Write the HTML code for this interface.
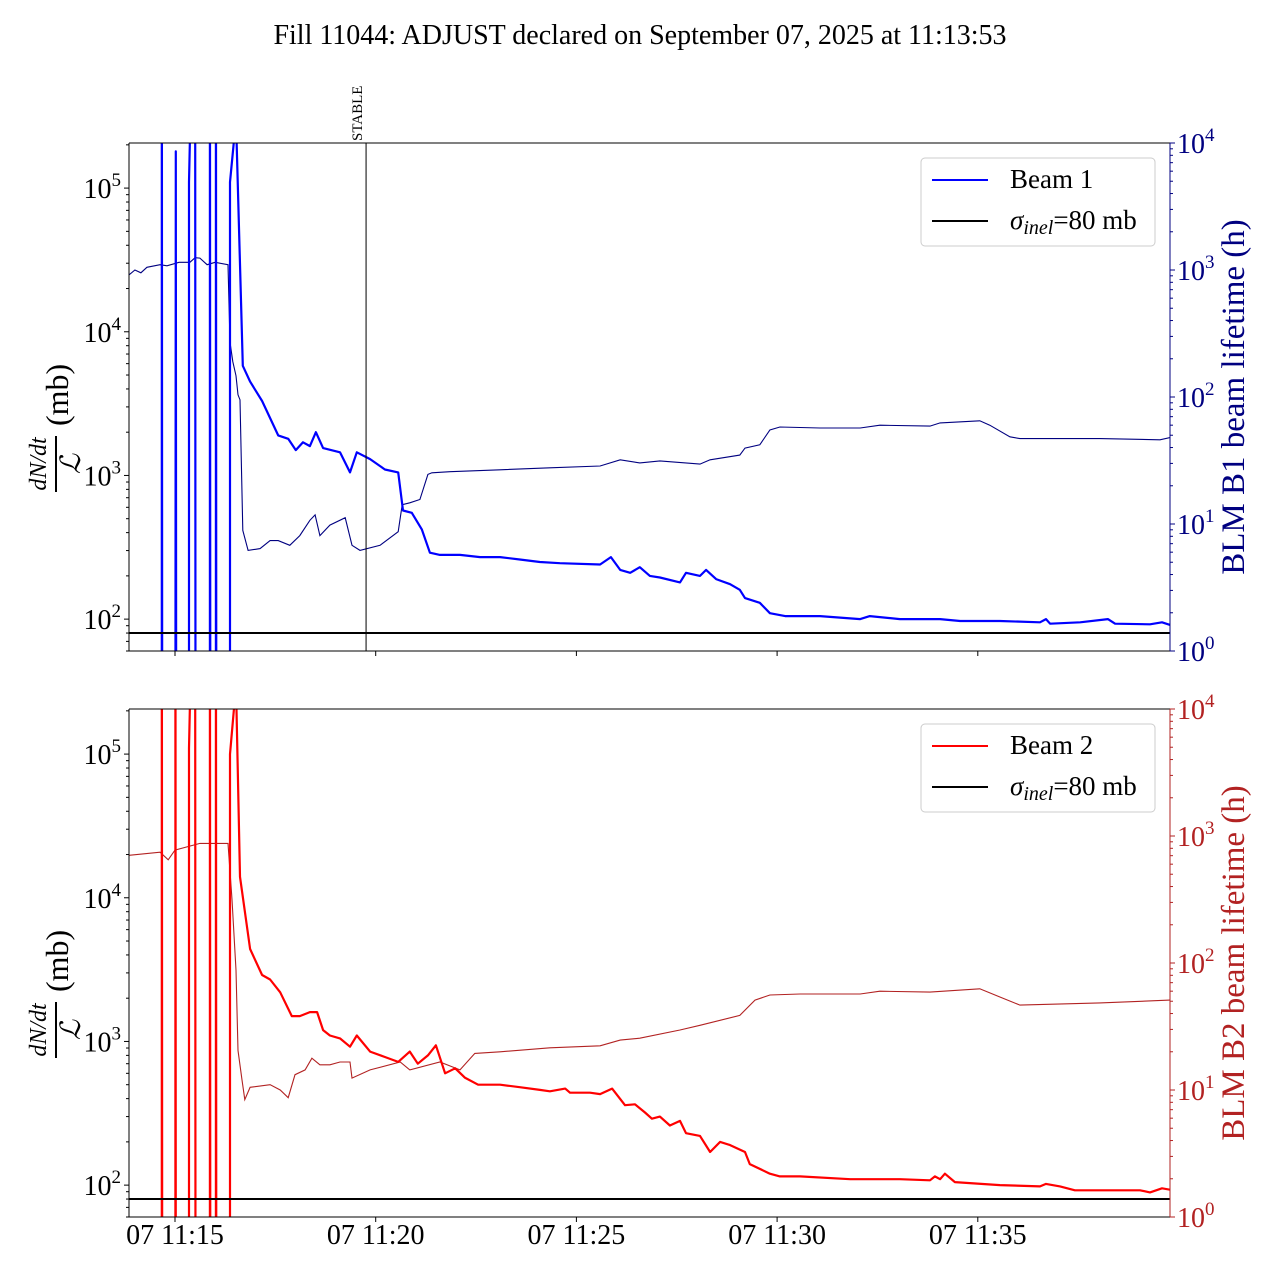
<!DOCTYPE html>
<html><head><meta charset="utf-8">
<style>
html,body{margin:0;padding:0;background:#fff;}
svg{display:block;font-family:"Liberation Serif","DejaVu Serif",serif;}
</style></head>
<body>
<svg id="chart" width="1280" height="1280" viewBox="0 0 1280 1280" xmlns="http://www.w3.org/2000/svg">
<text x="640" y="44" text-anchor="middle" font-size="28">Fill 11044: ADJUST declared on September 07, 2025 at 11:13:53</text>
</svg>
<script>
// time in minutes after 11:15
const xTickLabels = ["07 11:15","07 11:20","07 11:25","07 11:30","07 11:35"];
const xTickMinutes = [0,5,10,15,20];
const sigmaInel = 80;
const stableTime = 4.76;

const b1Time = [-0.33,-0.33,-0.32,0.01,0.02,0.03,0.35,0.35,0.50,0.51,0.87,0.87,0.88,1.02,1.02,1.03,1.37,1.37,1.52,1.69,1.87,2.17,2.57,2.82,3.01,3.19,3.36,3.51,3.69,4.11,4.36,4.53,4.86,5.23,5.56,5.68,5.90,6.15,6.35,6.60,7.10,7.60,8.10,8.59,9.09,9.59,10.59,10.86,11.09,11.34,11.58,11.83,12.08,12.58,12.73,13.08,13.23,13.48,13.83,14.07,14.20,14.57,14.82,15.20,16.07,17.07,17.31,18.06,19.06,19.56,20.55,21.55,21.70,21.80,22.55,23.24,23.42,24.29,24.59,24.79];
const b1Rate = [10,1e7,10,10,1.8e5,10,10,1.1e5,1e7,10,10,1e7,10,10,1e7,10,10,1.1e5,3e5,5800,4500,3300,1900,1800,1500,1700,1600,2000,1550,1450,1050,1450,1300,1100,1050,570,550,420,290,280,280,270,270,260,250,245,240,270,220,210,230,200,195,180,210,200,220,190,175,160,140,130,110,105,105,100,105,100,100,97,97,95,100,93,95,100,93,92,95,91];

const b1LtTime = [-1.15,-1.0,-0.85,-0.7,-0.37,-0.2,0.1,0.37,0.5,0.62,0.8,1.0,1.32,1.37,1.44,1.52,1.57,1.62,1.69,1.82,2.12,2.37,2.57,2.86,3.11,3.36,3.49,3.61,3.86,4.24,4.41,4.61,5.11,5.56,5.66,5.85,6.10,6.30,6.40,6.85,8.10,9.34,10.59,11.09,11.58,12.08,13.08,13.33,14.07,14.20,14.57,14.82,15.07,16.07,17.07,17.56,18.81,19.06,20.05,20.30,20.80,21.05,23.04,24.54,24.79];
const b1Lifetime = [912,1000,950,1050,1100,1080,1150,1150,1250,1240,1100,1150,1100,270,190,147,104,95,8.9,6.2,6.4,7.4,7.4,6.8,8.1,10.7,11.8,8.1,9.8,11.2,6.8,6.2,6.8,8.7,14.2,14.7,15.6,24.6,25.3,25.8,26.7,27.7,28.6,32,30.3,31.4,29.6,32,34.9,39.6,42,55,58,57,57,60,59,62.5,65,60,48.6,47,47,46,48];

const b2Time = [-0.33,-0.33,-0.32,0.01,0.01,0.02,0.35,0.35,0.50,0.51,0.87,0.87,0.88,1.02,1.02,1.03,1.37,1.37,1.52,1.62,1.87,2.17,2.37,2.62,2.91,3.11,3.36,3.54,3.69,3.86,4.11,4.36,4.53,4.86,5.23,5.56,5.85,6.05,6.30,6.50,6.73,6.98,7.22,7.55,8.10,8.59,9.09,9.34,9.72,9.84,10.34,10.59,10.89,11.21,11.46,11.71,11.88,12.08,12.33,12.58,12.73,13.08,13.33,13.58,13.83,14.20,14.32,14.82,15.07,15.57,16.82,18.06,18.81,18.93,19.06,19.18,19.43,20.55,21.55,21.70,22.05,22.42,23.04,24.04,24.29,24.59,24.79];
const b2Rate = [10,1e7,10,10,1e7,10,10,1.1e5,1e7,10,10,1e7,10,10,1e7,10,10,1e5,3e5,1.4e4,4400,2900,2700,2200,1500,1500,1600,1600,1200,1100,1050,920,1100,850,780,720,850,700,800,940,600,650,560,500,500,480,460,450,470,440,440,430,470,360,365,320,290,300,260,280,230,220,170,200,190,170,140,120,115,115,110,110,108,115,110,120,105,100,98,102,98,92,92,92,89,95,93];

const b2LtTime = [-1.15,-0.37,-0.17,0,0.62,1.32,1.42,1.52,1.57,1.67,1.74,1.87,2.37,2.62,2.82,2.99,3.24,3.41,3.61,3.86,4.11,4.36,4.41,4.86,5.61,5.85,6.60,7.10,7.47,8.10,9.34,10.59,11.09,11.58,12.58,13.08,14.07,14.45,14.82,15.57,17.07,17.56,18.81,20.05,20.55,21.05,23.04,24.79];
const b2Lifetime = [705,745,650,775,875,875,316,88,20.5,12,8.4,10.5,11,10,8.7,13.2,14.4,17.8,15.8,15.8,16.6,16.6,12.4,14.4,16.6,14.4,16.6,14.4,19.4,20,21.5,22.3,24.7,25.6,29.7,32.3,38.7,51,56,57,57,60,59,62.6,54,46.6,48.5,51];

const NS = "http://www.w3.org/2000/svg";
const svg = document.getElementById('chart');
const X0 = 129, X1 = 1170;
const xs = t => 175 + t * 40.14;
const LMIN = Math.log10(60), LMAX = Math.log10(2.06e5);

function mk(tag, attrs, parent) {
  const e = document.createElementNS(NS, tag);
  for (const k in attrs) e.setAttribute(k, attrs[k]);
  (parent || svg).appendChild(e);
  return e;
}

function panel(p) {
  const y0 = p.y0, y1 = p.y1;
  const yl = v => y1 - (Math.log10(v) - LMIN) / (LMAX - LMIN) * (y1 - y0);
  const yr = h => y1 - Math.log10(h) / 4 * (y1 - y0);
  const g = mk('g', {});
  
  
  const cp = mk('clipPath', {id: 'clip-' + p.name}, g);
  mk('rect', {x: X0, y: y0, width: X1 - X0, height: y1 - y0}, cp);
  const plot = mk('g', {'clip-path': 'url(#clip-' + p.name + ')'}, g);

  const lt = mk('polyline', {points: p.ltT.map((t, i) => xs(t).toFixed(1) + ',' + yr(p.ltV[i]).toFixed(1)).join(' '), fill: 'none', stroke: p.thin, 'stroke-width': 1.1}, plot);
  
  
  const rl = mk('polyline', {points: p.rT.map((t, i) => xs(t).toFixed(1) + ',' + yl(p.rV[i]).toFixed(1)).join(' '), fill: 'none', stroke: p.thick, 'stroke-width': 2.2, 'stroke-linejoin': 'round'}, plot);
  
  
  const sl = mk('line', {x1: X0, x2: X1, y1: yl(sigmaInel), y2: yl(sigmaInel), stroke: '#000', 'stroke-width': 2}, plot);
  
  
  if (p.stable) {
    const st = mk('line', {x1: xs(stableTime), x2: xs(stableTime), y1: y0, y2: y1, stroke: '#000', 'stroke-width': 1}, g);
    
    
    const tx = mk('text', {x: 0, y: 0, 'font-size': 15, transform: 'translate(' + (xs(stableTime) - 4) + ',' + (y0 - 2) + ') rotate(-90)'}, g);
    tx.textContent = 'STABLE';
    
    
  }
  mk('line', {x1: X0, x2: X1, y1: y0, y2: y0, stroke: '#000', 'stroke-width': 1}, g);
  mk('line', {x1: X0, x2: X1, y1: y1, y2: y1, stroke: '#000', 'stroke-width': 1}, g);
  mk('line', {x1: X0, x2: X0, y1: y0, y2: y1, stroke: '#000', 'stroke-width': 1}, g);
  mk('line', {x1: X1, x2: X1, y1: y0, y2: y1, stroke: p.thin, 'stroke-width': 1}, g);

  for (let d = 1; d <= 5; d++) {
    for (let m = 1; m <= 9; m++) {
      const v = m * Math.pow(10, d);
      if (v < 60 || v > 2.06e5) continue;
      const y = yl(v);
      mk('line', {x1: X0, x2: X0 - (m === 1 ? 5 : 3), y1: y, y2: y, stroke: '#000', 'stroke-width': 1}, g);
      if (m === 1) {
        const t = mk('text', {x: X0 - 8, y: y + 10, 'text-anchor': 'end', 'font-size': 28}, g);
        t.innerHTML = '10<tspan dy="-12" font-size="19">' + d + '</tspan>';
        
        
      }
    }
  }
  for (let d = 0; d <= 4; d++) {
    for (let m = 1; m <= 9; m++) {
      const v = m * Math.pow(10, d);
      if (v > 1e4) continue;
      const y = yr(v);
      mk('line', {x1: X1, x2: X1 + (m === 1 ? 5 : 3), y1: y, y2: y, stroke: p.thin, 'stroke-width': 1}, g);
      if (m === 1) {
        const t = mk('text', {x: X1 + 7, y: y + 10, 'font-size': 28, fill: p.thin}, g);
        t.innerHTML = '10<tspan dy="-12" font-size="19">' + d + '</tspan>';
        
        
      }
    }
  }
  xTickMinutes.forEach((m, i) => {
    const x = xs(m);
    mk('line', {x1: x, x2: x, y1: y1, y2: y1 + 5, stroke: '#000', 'stroke-width': 1}, g);
    if (p.xlabels) {
      const t = mk('text', {x: x, y: y1 + 27, 'text-anchor': 'middle', 'font-size': 28}, g);
      t.textContent = xTickLabels[i];
      
      
    }
  });
  const cy = (y0 + y1) / 2;
  const lg = mk('g', {transform: 'translate(56,' + (cy + 5) + ') rotate(-90)'}, g);
  
  
  const num = mk('text', {x: -62, y: -10, 'text-anchor': 'middle', 'font-size': 24, 'font-style': 'italic'}, lg);
  num.textContent = 'dN/dt';
  mk('line', {x1: -90, x2: -34, y1: 0, y2: 0, stroke: '#000', 'stroke-width': 2}, lg);
  const den = mk('text', {x: -62, y: 24, 'text-anchor': 'middle', 'font-size': 28, 'font-style': 'italic'}, lg);
  den.textContent = 'ℒ';
  const mb = mk('text', {x: -24, y: 12, 'font-size': 32}, lg);
  mb.textContent = '(mb)';
  const rt = mk('text', {x: 0, y: 0, 'text-anchor': 'middle', 'font-size': 33, fill: p.thin, transform: 'translate(1244,' + cy + ') rotate(-90)'}, g);
  rt.textContent = p.rtitle;
  
  
  const L = mk('g', {}, g);
  
  
  mk('rect', {x: 921, y: y0 + 15, width: 234, height: 88, rx: 4, fill: '#fff', 'fill-opacity': 0.8, stroke: '#ccc', 'stroke-width': 1}, L);
  mk('line', {x1: 932, x2: 988, y1: y0 + 37, y2: y0 + 37, stroke: p.thick, 'stroke-width': 2}, L);
  const t1 = mk('text', {x: 1010, y: y0 + 45, 'font-size': 27}, L);
  t1.textContent = p.legend;
  
  
  mk('line', {x1: 932, x2: 988, y1: y0 + 78, y2: y0 + 78, stroke: '#000', 'stroke-width': 2}, L);
  const t2 = mk('text', {x: 1010, y: y0 + 86, 'font-size': 27}, L);
  t2.innerHTML = '<tspan font-style="italic">σ</tspan><tspan font-style="italic" font-size="20" dy="5">inel</tspan><tspan dy="-5">=80 mb</tspan>';
  
  
}

panel({name: 'beam1', y0: 143, y1: 651, thick: '#0000ff', thin: '#000080', rT: b1Time, rV: b1Rate, ltT: b1LtTime, ltV: b1Lifetime, stable: true, xlabels: false, rtitle: 'BLM B1 beam lifetime (h)', legend: 'Beam 1'});
panel({name: 'beam2', y0: 709, y1: 1217, thick: '#ff0000', thin: '#b22222', rT: b2Time, rV: b2Rate, ltT: b2LtTime, ltV: b2Lifetime, stable: false, xlabels: true, rtitle: 'BLM B2 beam lifetime (h)', legend: 'Beam 2'});
</script>
</body></html>
